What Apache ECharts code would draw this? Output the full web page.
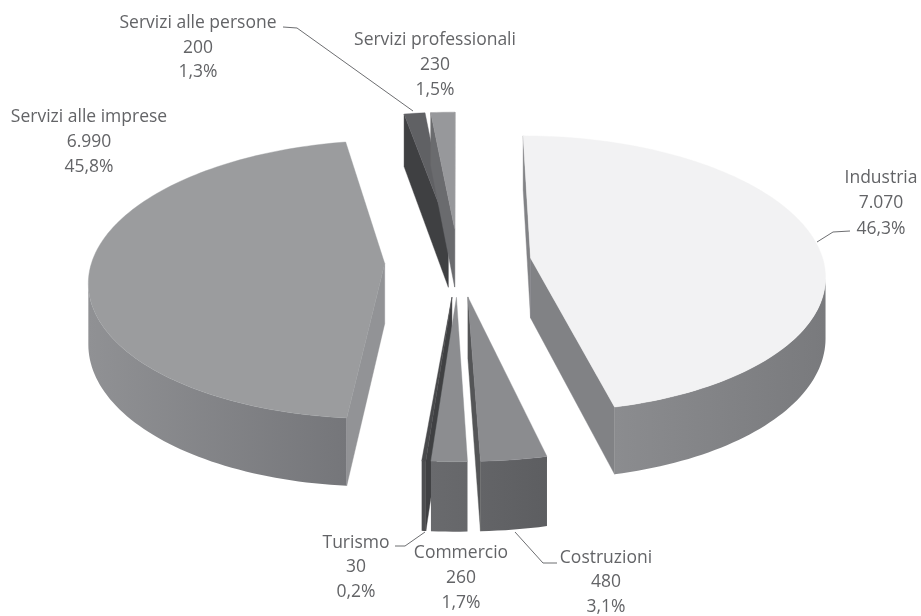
<!DOCTYPE html>
<html><head><meta charset="utf-8">
<style>html,body{margin:0;padding:0;background:#fff}#c{width:921px;height:616px}</style>
<script src="https://cdn.jsdelivr.net/npm/echarts@6/dist/echarts.min.js"></script>
</head><body><div id="c"></div>
<script>
const categories = ['Industria','Costruzioni','Commercio','Turismo','Servizi alle imprese','Servizi alle persone','Servizi professionali'];
const values = [7070,480,260,30,6990,200,230];

// Styling per category
const topColors = ['#f2f2f3','#8b8c8f','#8c8d90','#48494b','#9b9c9e','#606164','#97989b'];
const rimLeft   = ['#8b8c8f','#636467','#696a6d','#4d4e50','#909194','#5a5b5d','#77787b'];
const rimRight  = ['#797a7d','#5d5e61','#66676a','#4d4e50','#75767a','#5a5b5d','#77787b'];
const cutColors = ['#818285','#545557','#58595b','#3f4042','#929396','#3f4042','#6a6b6e'];
const paintOrder = [5,4,6,3,2,0,1];

// 3D view of the exploded pie
const view = {cx:458, cy:262, rx:293, ry:137, depth:60, persp:0.114, explode:0.25};

function project(u,v,down){
  const s = 1/(1+view.persp*v);
  return [view.cx+u*view.rx*s, view.cy+((down?view.depth:0)-v*view.ry)*s];
}
function area(p){
  let a=0;
  for(let i=0;i<p.length;i++){const q=p[(i+1)%p.length];a+=p[i][0]*q[1]-q[0]*p[i][1];}
  return a/2;
}
const total = values.reduce((a,b)=>a+b,0);

function renderItem(params,api){
  const i = params.dataIndex;
  const before = values.slice(0,i).reduce((a,b)=>a+b,0);
  const a0 = before/total*2*Math.PI, a1 = (before+api.value(0))/total*2*Math.PI;
  const mid=(a0+a1)/2, eu=view.explode*Math.sin(mid), ev=view.explode*Math.cos(mid);
  const n = Math.max(2,Math.ceil((a1-a0)/0.025));
  const top=[],bot=[];
  for(let k=0;k<=n;k++){
    const t=a0+(a1-a0)*k/n, u=eu+Math.sin(t), v=ev+Math.cos(t);
    top.push(project(u,v,false)); bot.push(project(u,v,true));
  }
  const apT=project(eu,ev,false), apB=project(eu,ev,true);
  const rank=paintOrder[i]*10, kids=[];
  const face=(pts,fill,z)=>kids.push({type:'polygon',z2:rank+z,shape:{points:pts},
    style:{fill:fill,stroke:typeof fill==='string'?fill:null,lineWidth:typeof fill==='string'?0.4:0},silent:true});

  // outer wall, only the part turned to the viewer
  const upper=[],lower=[];
  for(let k=0;k<n;k++){
    if(area([top[k],top[k+1],bot[k+1],bot[k]])<0){
      if(!upper.length){upper.push(top[k]);lower.push(bot[k]);}
      upper.push(top[k+1]);lower.push(bot[k+1]);
    }
  }
  if(upper.length) face(upper.concat(lower.reverse()),{type:'linear',x:0,y:0,x2:1,y2:0,
    colorStops:[{offset:0,color:rimLeft[i]},{offset:1,color:rimRight[i]}]},1);

  // the two cut faces
  const c0=[apT,top[0],bot[0],apB], c1=[apB,bot[n],top[n],apT];
  if(area(c0)<0) face(c0,cutColors[i],2);
  if(area(c1)<0) face(c1,cutColors[i],2);

  // top surface
  face([apT].concat(top),topColors[i],3);
  return {type:'group',children:kids};
}

// Label placement: centre x, y of first line, y of the two next ones
const labelPos = [
  [881,178,203,229],[606,558,582,607],[461,553,578,603],[356,543,567,592],
  [89,117,142,167],[198,23,48,72],[435,40,65,90]
];
const leaders = [
  [[817,242],[833,232],[850,231]],
  [[515,532],[543,563],[557,563]],
  [[425,532],[405,546],[395,546]],
  [[413,111],[297,28],[283,27]]
];
const fmtVal = v => String(v).replace(/\B(?=(\d{3})+$)/g,'.');
const fmtPct = v => (v/total*100).toFixed(1).replace('.',',')+'%';
const textEl=(x,y,t)=>({type:'text',x:x,y:y,silent:true,style:{text:t,fill:'#636467',
  font:'17.5px "Open Sans"',textAlign:'center',textVerticalAlign:'middle'}});
const graphics=[];
categories.forEach((c,i)=>{
  const p=labelPos[i];
  graphics.push(textEl(p[0],p[1],c),textEl(p[0],p[2],fmtVal(values[i])),textEl(p[0],p[3],fmtPct(values[i])));
});
leaders.forEach(l=>graphics.push({type:'polyline',silent:true,shape:{points:l},style:{stroke:'#6d6e71',lineWidth:1,fill:null}}));

const chart=echarts.init(document.getElementById('c'),null,{renderer:'canvas'});
chart.setOption({
  animation:false,
  backgroundColor:'#fff',
  series:[{type:'custom',coordinateSystem:'none',renderItem:renderItem,silent:true,
    data:values.map((v,i)=>({name:categories[i],value:[v]}))}],
  graphic:{elements:graphics}
});
</script></body></html>
